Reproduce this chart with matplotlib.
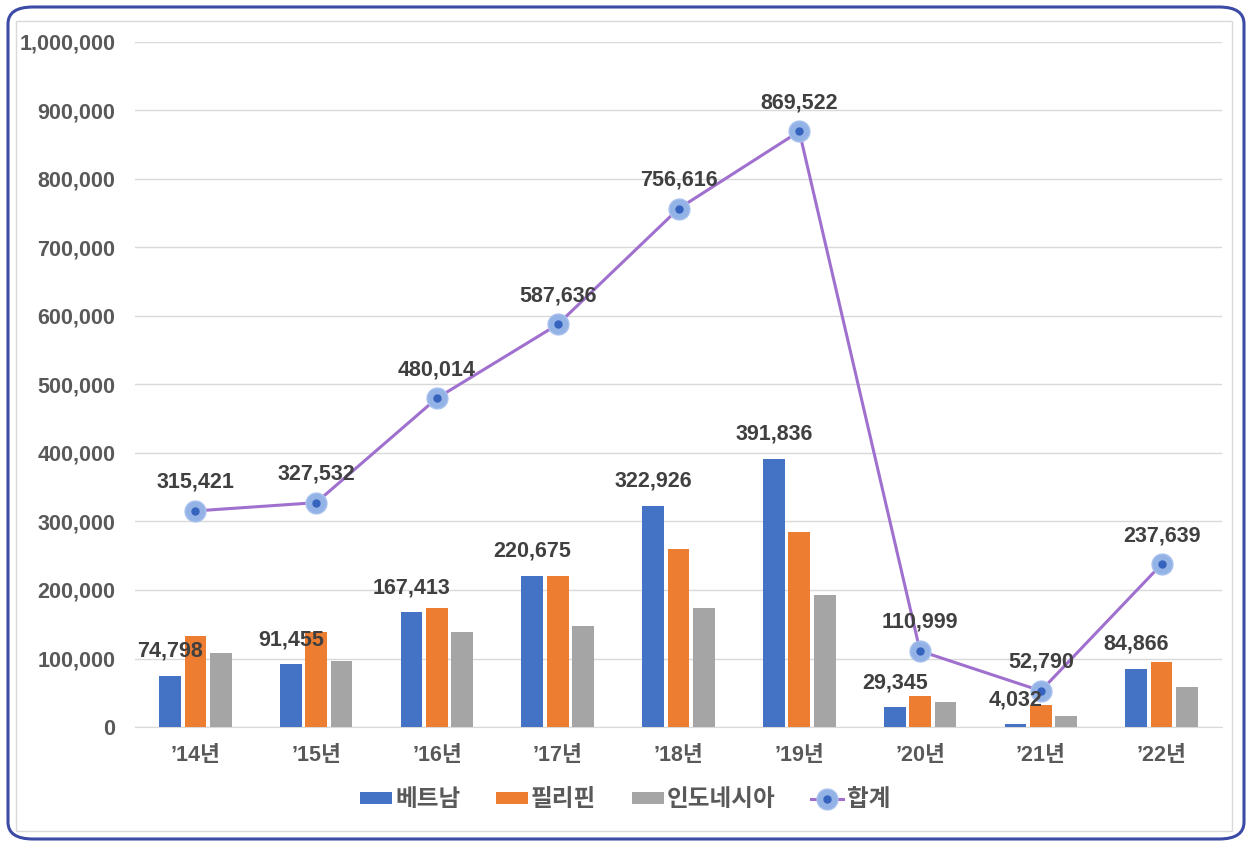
import matplotlib
matplotlib.use("Agg")
import matplotlib.pyplot as plt
from matplotlib.patches import FancyBboxPatch, Rectangle
import numpy as np

plt.rcParams['font.family'] = ['Liberation Sans', 'Noto Sans CJK KR', 'DejaVu Sans']

# données
annees = ["’14년", "’15년", "’16년", "’17년", "’18년", "’19년", "’20년", "’21년", "’22년"]
vietnam = [74798, 91455, 167413, 220675, 322926, 391836, 29345, 4032, 84866]
philippines = [133000, 138000, 174000, 220000, 260000, 285000, 45000, 32000, 95000]
indonesie = [107600, 97000, 139000, 147000, 173700, 192700, 36000, 16000, 57700]
total = [315421, 327532, 480014, 587636, 756616, 869522, 110999, 52790, 237639]
noms = ["베트남", "필리핀", "인도네시아", "합계"]

c_bleu = "#4472C4"
c_orange = "#ED7D31"
c_gris = "#A5A5A5"
c_violet = "#A070CF"
c_texte = "#404040"

fig = plt.figure(figsize=(12.5, 8.43), dpi=100, facecolor="white")

# cadre arrondi bleu + cadre gris intérieur
cadre = FancyBboxPatch((8 / 1250, 4 / 843), 1236 / 1250, 832 / 843,
                       boxstyle="round,pad=0,rounding_size=0.02",
                       transform=fig.transFigure, facecolor="none",
                       edgecolor="#3B4BA6", linewidth=2.2, zorder=-1)
fig.patches.append(cadre)
interieur = Rectangle((16 / 1250, 12 / 843), 1216 / 1250, 810 / 843,
                      transform=fig.transFigure, facecolor="none",
                      edgecolor="#D9D9D9", linewidth=1, zorder=-1)
fig.patches.append(interieur)

ax = fig.add_axes([0.108, 0.1376, 0.8696, 0.8126])
ax.set_facecolor("none")

x = np.arange(len(annees))
w = 0.18
pas = 0.21
b1 = ax.bar(x - pas, vietnam, w, color=c_bleu, zorder=3)
b2 = ax.bar(x, philippines, w, color=c_orange, zorder=3)
b3 = ax.bar(x + pas, indonesie, w, color=c_gris, zorder=3)
ligne, = ax.plot(x, total, color=c_violet, linewidth=2.2, marker="o", markersize=15,
                 markerfacecolor="#93B2E6", markeredgecolor="#A8C1EE", zorder=4)
points, = ax.plot(x, total, linestyle="none", marker="o", markersize=5,
                  color="#3563BE", zorder=5)

# étiquettes
for i in range(len(annees)):
    ax.annotate(f"{vietnam[i]:,}", (x[i] - pas, vietnam[i]), xytext=(0, 10),
                textcoords="offset points", ha="center", va="bottom",
                fontsize=15.5, fontweight="bold", color=c_texte, zorder=6)
    ax.annotate(f"{total[i]:,}", (x[i], total[i]), xytext=(0, 13),
                textcoords="offset points", ha="center", va="bottom",
                fontsize=15.5, fontweight="bold", color=c_texte, zorder=6)

ax.set_xlim(-0.5, len(annees) - 0.5)
ax.set_ylim(0, 1000000)
ax.set_yticks(np.arange(0, 1000001, 100000))
ax.yaxis.set_major_formatter(matplotlib.ticker.FuncFormatter(lambda v, p: f"{int(v):,}"))
ax.set_xticks(x)
ax.set_xticklabels(annees)
ax.tick_params(axis="y", length=0, pad=14, labelsize=15.5, labelcolor="#595959")
ax.tick_params(axis="x", length=0, pad=13, labelsize=15.5, labelcolor="#595959")
for t in ax.get_xticklabels() + ax.get_yticklabels():
    t.set_fontweight("bold")
ax.grid(axis="y", color="#D9D9D9", linewidth=1, zorder=0)
for s in ["top", "right", "left"]:
    ax.spines[s].set_visible(False)
ax.spines["bottom"].set_color("#D9D9D9")

fig.legend([b1, b2, b3, (ligne, points)], noms, loc="center",
           bbox_to_anchor=(0.5, 1 - 800 / 843), ncol=4, frameon=False,
           prop={"size": 17, "weight": "bold"}, labelcolor="#595959",
           handlelength=1.35, handleheight=0.45,
           handletextpad=0.15, columnspacing=1.5)

fig.savefig("out.png", dpi=100)
